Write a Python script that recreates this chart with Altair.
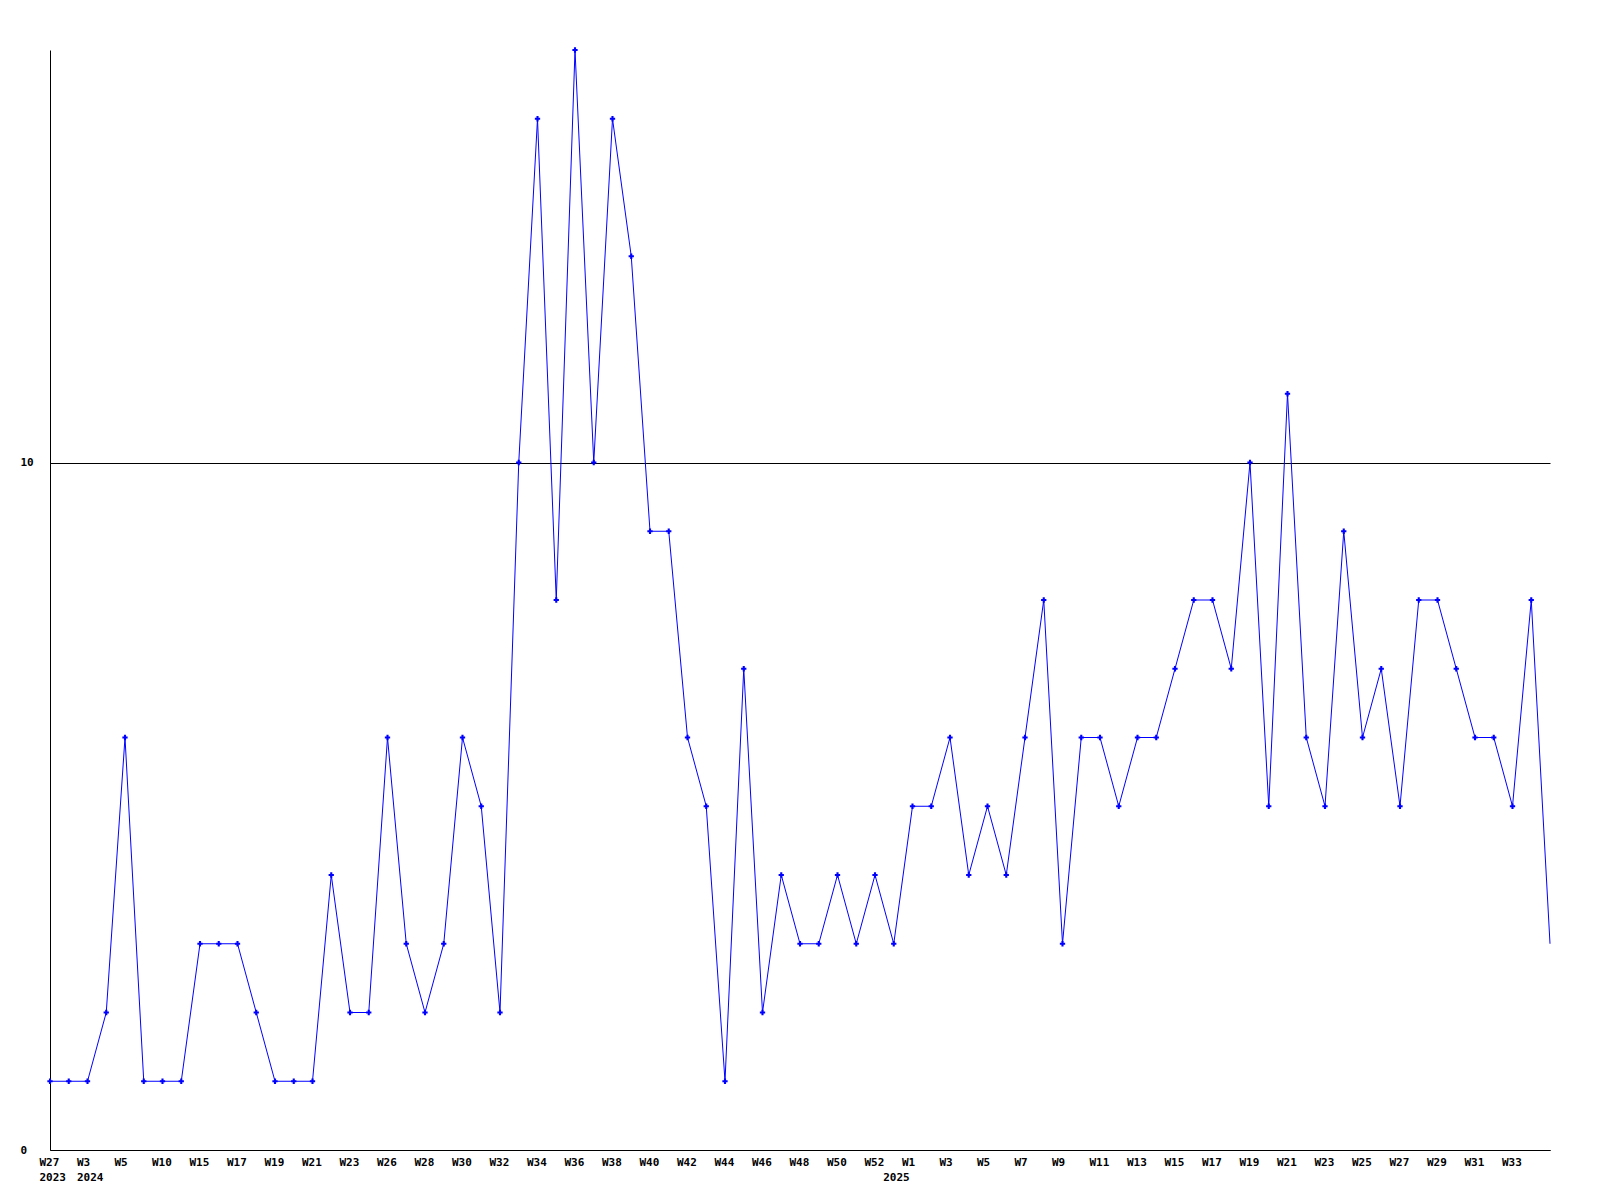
import json
import altair as alt
import pandas as pd

# weekly values, one per week with data (W27 2023 ... W35 2025)
values = [1, 1, 1, 2, 6, 1, 1, 1, 3, 3,
          3, 2, 1, 1, 1, 4, 2, 2, 6, 3,
          2, 3, 6, 5, 2, 10, 15, 8, 16, 10,
          15, 13, 9, 9, 6, 5, 1, 7, 2, 4,
          3, 3, 4, 3, 4, 3, 5, 5, 6, 4,
          5, 4, 6, 8, 3, 6, 6, 5, 6, 6,
          7, 8, 8, 7, 10, 5, 11, 6, 5, 9,
          6, 7, 5, 8, 8, 7, 6, 6, 5, 8, 3]

week_labels = {0: "W27", 2: "W3", 4: "W5", 6: "W10", 8: "W15", 10: "W17", 12: "W19",
               14: "W21", 16: "W23", 18: "W26", 20: "W28", 22: "W30", 24: "W32",
               26: "W34", 28: "W36", 30: "W38", 32: "W40", 34: "W42", 36: "W44",
               38: "W46", 40: "W48", 42: "W50", 44: "W52", 46: "W1", 48: "W3",
               50: "W5", 52: "W7", 54: "W9", 56: "W11", 58: "W13", 60: "W15",
               62: "W17", 64: "W19", 66: "W21", 68: "W23", 70: "W25", 72: "W27",
               74: "W29", 76: "W31", 78: "W33"}
year_labels = {0: "2023", 2: "2024", 45: "2025"}

y_ticks = [0, 10]

n = len(values)
df = pd.DataFrame({"idx": list(range(n)), "value": values})
df_pts = df.iloc[:-1]

tick_idx = sorted(set(week_labels) | set(year_labels))
label_arr = []
for i in range(n):
    label_arr.append([week_labels.get(i, ""), year_labels.get(i, "")])
label_expr = json.dumps(label_arr) + "[datum.value]"

FONT = "DejaVu Sans Mono"

x_enc = alt.X("idx:Q", scale=alt.Scale(domain=[0, n - 1], nice=False, zero=False),
              axis=alt.Axis(values=tick_idx, labelExpr=label_expr, title=None,
                            grid=False, ticks=False, domainColor="black",
                            domainWidth=1, labelAlign="left", labelOffset=-11,
                            labelPadding=6, labelBaseline="top",
                            labelLineHeight=15, labelOverlap=False,
                            labelBound=False, labelFlush=False,
                            labelFont=FONT, labelFontSize=11,
                            labelFontWeight="bold", labelColor="black"))
y_enc = alt.Y("value:Q", scale=alt.Scale(domain=[0, 16], nice=False),
              axis=alt.Axis(values=y_ticks, title=None, grid=True, gridColor="black",
                            gridOpacity=1, gridWidth=1, ticks=False, format="d",
                            domainColor="black", domainWidth=1,
                            labelAlign="left", labelPadding=30,
                            labelBaseline="middle", labelFont=FONT,
                            labelFontSize=11, labelFontWeight="bold",
                            labelColor="black"))

line = alt.Chart(df).mark_line(color="#0000ff", strokeWidth=1).encode(x=x_enc, y=y_enc)
pts = alt.Chart(df_pts).mark_point(shape="cross", filled=True, size=28,
                                    color="#0000ff", opacity=1).encode(x=x_enc, y=y_enc)

chart = alt.layer(line, pts).properties(
    width=1500, height=1100,
    autosize="none",
    background="white",
    padding={"left": 42, "top": 42, "right": 42, "bottom": 60},
).configure_view(stroke=None)

chart.save("out.html", embed_options={"renderer": "svg", "actions": False})
